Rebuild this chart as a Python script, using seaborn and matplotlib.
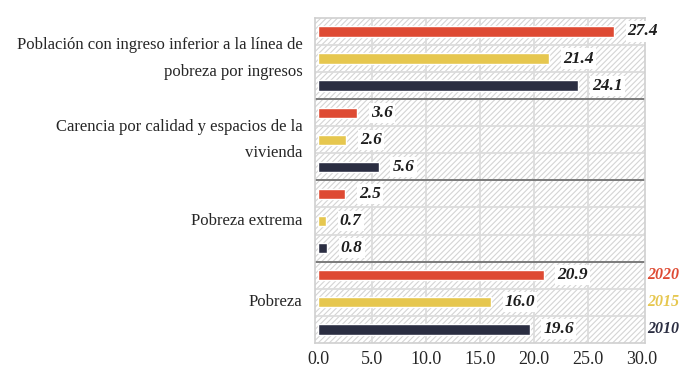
import pandas as pd
import matplotlib
import matplotlib.pyplot as plt
import seaborn as sns
from matplotlib.ticker import FormatStrFormatter, FixedLocator

matplotlib.use('Agg')

# data
categories = [
    'Población con ingreso inferior a la línea de\npobreza por ingresos',
    'Carencia por calidad y espacios de la\nvivienda',
    'Pobreza extrema',
    'Pobreza',
]
years = ['2020', '2015', '2010']
values_2020 = [27.4, 3.6, 2.5, 20.9]
values_2015 = [21.4, 2.6, 0.7, 16.0]
values_2010 = [24.1, 5.6, 0.8, 19.6]
year_colours = ['#de4a33', '#e6c74f', '#2b2e42']
x_ticks = [0, 5, 10, 15, 20, 25, 30]

df = pd.DataFrame({
    'category': categories * 3,
    'year': [y for y in years for _ in categories],
    'value': values_2020 + values_2015 + values_2010,
})

sns.set_style('white')
plt.rcParams['font.family'] = ['Liberation Serif', 'DejaVu Serif']
plt.rcParams['hatch.linewidth'] = 0.8

fig = plt.figure(figsize=(6.79, 3.81), dpi=100)
ax = fig.add_axes([0.464, 0.1, 0.486, 0.853])

# hatched background of the plot area
ax.patch.set_facecolor('white')
ax.patch.set_edgecolor('#d4d4d4')
ax.patch.set_hatch('//////')
ax.patch.set_linewidth(0)

sns.barplot(
    data=df,
    x='value',
    y='category',
    hue='year',
    hue_order=years,
    order=categories,
    palette=year_colours,
    saturation=1,
    orient='h',
    width=1.0,
    gap=0.62,
    legend=False,
    ax=ax,
    zorder=3,
)

# value labels with white boxes
for container in ax.containers:
    ax.bar_label(
        container,
        fmt='%.1f',
        padding=10,
        fontsize=12.5,
        fontweight='bold',
        fontstyle='italic',
        color='#1e1e1e',
        bbox=dict(facecolor='white', edgecolor='none', pad=1.5),
        zorder=5,
    )

ax.set_xlim(-0.3, 30.3)
ax.set_ylim(len(categories) - 0.5, -0.5)
ax.set_xticks(x_ticks)
ax.xaxis.set_major_formatter(FormatStrFormatter('%.1f'))
ax.set_xlabel('')
ax.set_ylabel('')

# grid: vertical lines at ticks, thin row separators, darker group separators
for xv in x_ticks[1:-1]:
    ax.axvline(xv, color='#dcdcdc', lw=1.3, zorder=1)
row_edges = [k + d for k in range(len(categories)) for d in (-1 / 6, 1 / 6)]
for yv in row_edges:
    ax.axhline(yv, color='#dcdcdc', lw=1.3, zorder=1)
group_edges = [k + 0.5 for k in range(len(categories) - 1)]
for yv in group_edges:
    ax.axhline(yv, color='#7a7a7a', lw=1.4, zorder=2)

ax.yaxis.set_minor_locator(FixedLocator(row_edges + group_edges))
ax.tick_params(axis='y', which='major', length=0, pad=9, labelsize=12.0)
ax.tick_params(axis='y', which='minor', length=4, color='#bbbbbb', width=1)
ax.tick_params(axis='x', length=0, pad=6, labelsize=13)
for lbl in ax.get_yticklabels():
    lbl.set_multialignment('right')
    lbl.set_linespacing(1.85)
    lbl.set_verticalalignment('center')

for side in ['top', 'right', 'bottom', 'left']:
    ax.spines[side].set_color('#d0d0d0')
    ax.spines[side].set_linewidth(1.2)

# year legend on the right, aligned with the last group's rows
last = len(categories) - 1
for i, (year, colour) in enumerate(zip(years, year_colours)):
    ax.text(
        1.008, last + (i - 1) / 3, year,
        transform=ax.get_yaxis_transform(),
        color=colour, fontsize=11.5, fontweight='bold', fontstyle='italic',
        va='center', ha='left',
    )

plt.savefig('out.png', dpi=100)
